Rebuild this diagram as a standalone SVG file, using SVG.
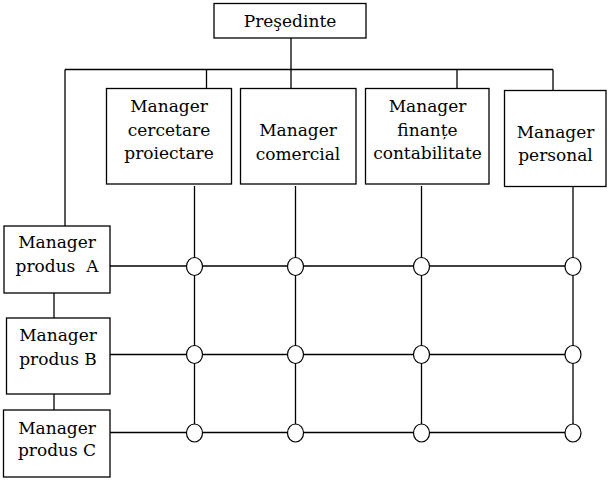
<svg xmlns="http://www.w3.org/2000/svg" width="608" height="480" viewBox="0 0 608 480">
<style>
.box{fill:#fff;stroke:#000;stroke-width:1.3}
.ln{stroke:#000;stroke-width:1.3;fill:none}
.nd{fill:#fff;stroke:#000;stroke-width:1.2}
.t{font-family:'DejaVu Serif',serif;font-size:17px;fill:#000;text-anchor:middle}
</style>
<rect width="608" height="480" fill="#fff"/>
<g id="connectors" class="ln">
<line x1="291" y1="38" x2="291" y2="88"/>
<line x1="65" y1="69.5" x2="553" y2="69.5"/>
<line x1="206.5" y1="69.5" x2="206.5" y2="88"/>
<line x1="457" y1="69.5" x2="457" y2="88"/>
<line x1="553" y1="69.5" x2="553" y2="90.5"/>
<line x1="65" y1="69.5" x2="65" y2="226"/>
<line x1="54" y1="293" x2="54" y2="318"/>
<line x1="54" y1="394" x2="54" y2="410"/>
<line x1="194.5" y1="186" x2="194.5" y2="433"/>
<line x1="295.5" y1="186" x2="295.5" y2="433"/>
<line x1="421.5" y1="186" x2="421.5" y2="433"/>
<line x1="573" y1="186.5" x2="573" y2="433"/>
<line x1="110" y1="266" x2="573" y2="266"/>
<line x1="110" y1="354.5" x2="573" y2="354.5"/>
<line x1="110" y1="432.5" x2="573" y2="432.5"/>
</g>
<g id="presedinte" class="t"><rect class="box" x="214" y="3.5" width="152" height="34.5"/><text x="290" y="27">Preşedinte</text></g>
<g id="mgr-cercetare" class="t"><rect class="box" x="106.5" y="88.5" width="125" height="95.5"/><text x="169" y="112">Manager</text><text x="169" y="135.5">cercetare</text><text x="169" y="159">proiectare</text></g>
<g id="mgr-comercial" class="t"><rect class="box" x="240.5" y="88.5" width="115.5" height="95.5"/><text x="298" y="136">Manager</text><text x="298" y="159.5">comercial</text></g>
<g id="mgr-finante" class="t"><rect class="box" x="365.5" y="88.5" width="123.5" height="95.5"/><text x="427.5" y="112">Manager</text><text x="427.5" y="135.5">finanțe</text><text x="427.5" y="159">contabilitate</text></g>
<g id="mgr-personal" class="t"><rect class="box" x="504.5" y="90.5" width="101.5" height="96"/><text x="555.5" y="137.5">Manager</text><text x="555.5" y="160.5">personal</text></g>
<g id="produs-a" class="t"><rect class="box" x="4" y="226" width="106" height="67"/><text x="57" y="247.5">Manager</text><text x="57" y="272" xml:space="preserve">produs  A</text></g>
<g id="produs-b" class="t"><rect class="box" x="6.5" y="318" width="103.5" height="76"/><text x="58" y="341">Manager</text><text x="58" y="364.5">produs B</text></g>
<g id="produs-c" class="t"><rect class="box" x="3.5" y="410" width="106.5" height="67"/><text x="57" y="433.5">Manager</text><text x="57" y="456">produs C</text></g>
<g id="nodes">
<ellipse class="nd" cx="194.5" cy="266.5" rx="8" ry="9"/>
<ellipse class="nd" cx="295.5" cy="266.5" rx="8" ry="9"/>
<ellipse class="nd" cx="421.5" cy="266.5" rx="8" ry="9"/>
<ellipse class="nd" cx="573" cy="266.5" rx="8" ry="9"/>
<ellipse class="nd" cx="194.5" cy="354.5" rx="8" ry="9"/>
<ellipse class="nd" cx="295.5" cy="354.5" rx="8" ry="9"/>
<ellipse class="nd" cx="421.5" cy="354.5" rx="8" ry="9"/>
<ellipse class="nd" cx="573" cy="354.5" rx="8" ry="9"/>
<ellipse class="nd" cx="194.5" cy="433" rx="8" ry="9"/>
<ellipse class="nd" cx="295.5" cy="433" rx="8" ry="9"/>
<ellipse class="nd" cx="421.5" cy="433" rx="8" ry="9"/>
<ellipse class="nd" cx="573" cy="433" rx="8" ry="9"/>
</g>
</svg>
